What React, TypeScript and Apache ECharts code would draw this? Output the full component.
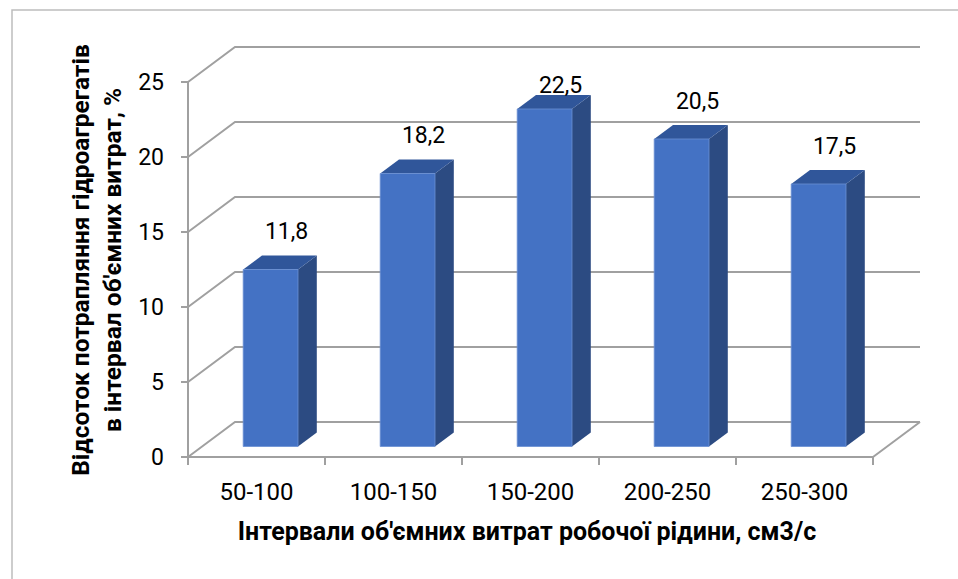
import React, { useEffect, useRef } from "react";
import * as echarts from "echarts";

const CATEGORIES = ["50-100", "100-150", "150-200", "200-250", "250-300"];
const VALUES = [11.8, 18.2, 22.5, 20.5, 17.5];
const Y_TICKS = [0, 5, 10, 15, 20, 25];
const Y_TITLE = "Відсоток потрапляння гідроагрегатів\nв інтервал об'ємних витрат, %";
const X_TITLE = "Інтервали об'ємних витрат робочої рідини, см3/с";

const DX = 47;
const DY = -35;
const FRONT = 0.3;
const BAR_D = 0.4;
const GRID_COLOR = "#A0A0A0";
const FONT = "Roboto";
const LABEL_MIN_Y = 85;

export default function App() {
  const ref = useRef<HTMLDivElement>(null);
  useEffect(() => {
    if (!ref.current) return;
    const chart = echarts.init(ref.current, undefined, { renderer: "svg" });
    const lineStyle = { stroke: GRID_COLOR, lineWidth: 2, fill: "none" };
    const option: any = {
      animation: false,
      backgroundColor: "#ffffff",
      grid: { left: 188, top: 82, width: 685, height: 375 },
      xAxis: {
        type: "category",
        data: CATEGORIES,
        axisLine: { show: true, lineStyle: { color: GRID_COLOR, width: 2 } },
        axisTick: { show: true, length: 8, lineStyle: { color: GRID_COLOR, width: 2 } },
        axisLabel: { margin: 23, color: "#000", fontFamily: FONT, fontSize: 24 },
        splitLine: { show: false },
      },
      yAxis: {
        type: "value",
        min: 0,
        max: 25,
        interval: 5,
        axisLine: { show: true, lineStyle: { color: GRID_COLOR, width: 2 } },
        axisTick: { show: true, length: 7, lineStyle: { color: GRID_COLOR, width: 2 } },
        axisLabel: { margin: 24, color: "#000", fontFamily: FONT, fontSize: 23 },
        splitLine: { show: false },
      },
      graphic: [
        {
          type: "rect",
          shape: { x: 12, y: 10, width: 980, height: 600 },
          style: { fill: "none", stroke: "#BDBDBD", lineWidth: 1.5 },
          silent: true,
        },
        {
          type: "text",
          x: 96,
          y: 260,
          rotation: Math.PI / 2,
          style: {
            text: Y_TITLE,
            align: "center",
            verticalAlign: "middle",
            font: `bold 24.5px ${FONT}`,
            lineHeight: 32,
            fill: "#000",
          },
        },
        {
          type: "text",
          x: 527,
          y: 531,
          style: {
            text: X_TITLE,
            align: "center",
            verticalAlign: "middle",
            font: `bold 25px ${FONT}`,
            fill: "#000",
          },
        },
      ],
      series: [
        {
          type: "custom",
          z: 1,
          silent: true,
          data: Y_TICKS.map((t) => [0, t]),
          renderItem: (params: any, api: any) => {
            const cs = params.coordSys;
            const v = api.value(1);
            const y = api.coord([0, v])[1];
            const x0 = cs.x;
            const x1 = cs.x + cs.width;
            const children: any[] = [
              {
                type: "polyline",
                shape: { points: [[x0, y], [x0 + DX, y + DY], [x1 + DX, y + DY]] },
                style: lineStyle,
              },
            ];
            if (v === 0) {
              children.push({
                type: "line",
                shape: { x1: x1, y1: y, x2: x1 + DX, y2: y + DY },
                style: lineStyle,
              });
            }
            return { type: "group", children };
          },
        },
        {
          type: "custom",
          z: 3,
          silent: true,
          data: VALUES.map((v, i) => [i, v]),
          renderItem: (params: any, api: any) => {
            const i = api.value(0);
            const v = api.value(1);
            const [cx, yv] = api.coord([i, v]);
            const y0 = api.coord([i, 0])[1];
            const w = api.size([1, 0])[0] * 0.4;
            const fx = FRONT * DX;
            const fy = FRONT * DY;
            const ddx = BAR_D * DX;
            const ddy = BAR_D * DY;
            const left = cx - w / 2 + fx;
            const right = left + w;
            const bottom = y0 + fy;
            const top = yv + fy;
            const labelY = Math.max(top + ddy - 24, LABEL_MIN_Y);
            return {
              type: "group",
              children: [
                {
                  type: "polygon",
                  shape: {
                    points: [
                      [right, top],
                      [right + ddx, top + ddy],
                      [right + ddx, bottom + ddy],
                      [right, bottom],
                    ],
                  },
                  style: { fill: "#2C4B82" },
                },
                {
                  type: "polygon",
                  shape: {
                    points: [
                      [left, top],
                      [left + ddx, top + ddy],
                      [right + ddx, top + ddy],
                      [right, top],
                    ],
                  },
                  style: { fill: "#30569A" },
                },
                {
                  type: "rect",
                  shape: { x: left, y: top, width: w, height: bottom - top },
                  style: { fill: "#4472C4", stroke: "#6A8FD3", lineWidth: 0.8 },
                },
                {
                  type: "text",
                  style: {
                    text: v.toFixed(1).replace(".", ","),
                    x: cx + fx + ddx * 0.85,
                    y: labelY,
                    align: "center",
                    verticalAlign: "middle",
                    font: `23px ${FONT}`,
                    fill: "#000",
                  },
                },
              ],
            };
          },
        },
      ],
    };
    chart.setOption(option);
    return () => chart.dispose();
  }, []);
  return (
    <div
      ref={ref}
      style={{ position: "fixed", left: 0, top: 0, width: 958, height: 579, background: "#fff" }}
    />
  );
}
